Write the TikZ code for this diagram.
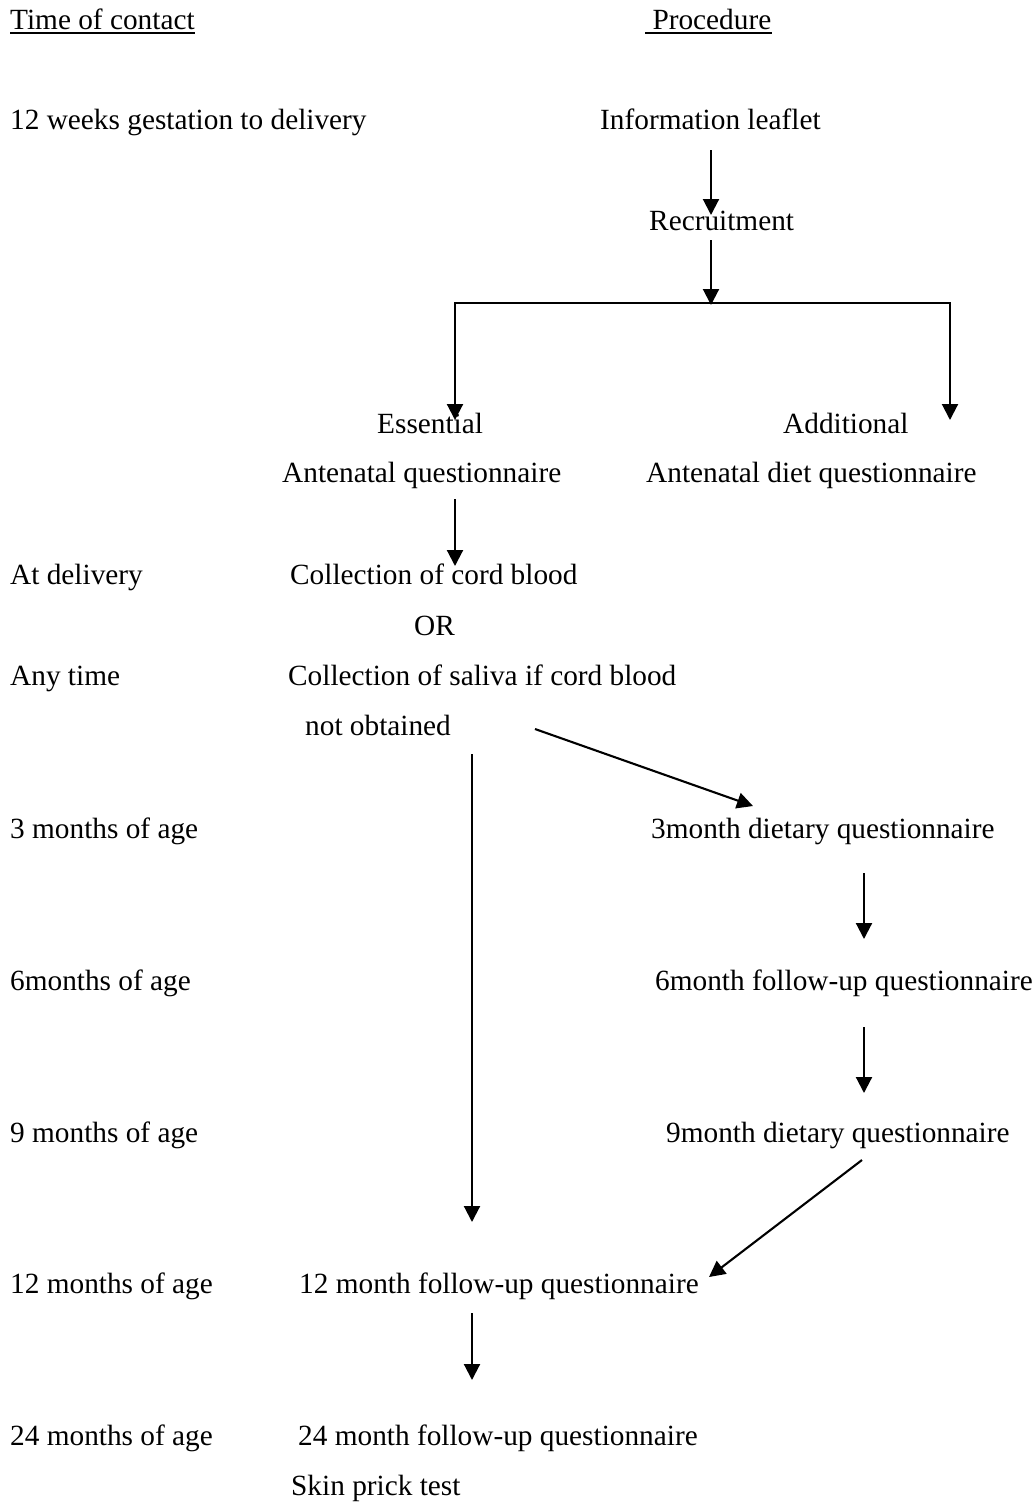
\documentclass[tikz,border=0pt]{standalone}
\usepackage{fontspec}
\setmainfont{Liberation Serif}
\usetikzlibrary{
  arrows.meta,
  positioning
}
\definecolor{linecolor}{RGB}{0, 0, 0}
\definecolor{labelcolor}{RGB}{0, 0, 0}
\tikzset{
plaintext/.style={
  font=\fontsize{29.3}{34}\selectfont,
  text=labelcolor,
  inner sep=0pt,
  anchor=base west
},
headtext/.style={
  plaintext
},
underline/.style={
  draw=linecolor,
  line width=1.8pt
},
link/.style={
  line width=2.1pt,
  draw=linecolor,
  line cap=rect
},
arrow/.style={
  -{Triangle[length=16pt,width=16pt]},
  line width=2.1pt,
  draw=linecolor
}
}
\begin{document}
\begin{tikzpicture}[x=1pt, y=-1pt]
      \useasboundingbox (0,0) rectangle (1036,1505);
      % Headings
      \node[headtext] (timehead) at (10,29) {Time of contact};
      \node[headtext] (prochead) at (645,29) {\ Procedure};
      \draw[underline] ([yshift=-4pt]timehead.base west) -- ([yshift=-4pt]timehead.base east);
      \draw[underline] ([yshift=-4pt]prochead.base west) -- ([yshift=-4pt]prochead.base east);
      % Time of contact column
      \node[plaintext] (tgest) at (10,129) {12 weeks gestation to delivery};
      \node[plaintext] (tdeliv) at (10,584) {At delivery};
      \node[plaintext] (tany) at (10,685) {Any time};
      \node[plaintext] (tthree) at (10,838) {3 months of age};
      \node[plaintext] (tsix) at (10,990) {6months of age};
      \node[plaintext] (tnine) at (10,1142) {9 months of age};
      \node[plaintext] (ttwelve) at (10,1293) {12 months of age};
      \node[plaintext] (ttwentyfour) at (10,1445) {24 months of age};
      % Procedure column
      \node[plaintext] (leaflet) at (600,129) {Information leaflet};
      \node[plaintext] (recruit) at (649,230) {Recruitment};
      \node[plaintext] (essential) at (377,433) {Essential};
      \node[plaintext] (additional) at (783,433) {Additional};
      \node[plaintext] (antequest) at (282,482) {Antenatal questionnaire};
      \node[plaintext] (dietquest) at (646,482) {Antenatal diet questionnaire};
      \node[plaintext] (cordblood) at (290,584) {Collection of cord blood};
      \node[plaintext] (ornode) at (414,635) {OR};
      \node[plaintext] (saliva) at (288,685) {Collection of saliva if cord blood};
      \node[plaintext] (notobt) at (305,735) {not obtained};
      \node[plaintext] (dietthree) at (651,838) {3month dietary questionnaire};
      \node[plaintext] (followsix) at (655,990) {6month follow-up questionnaire};
      \node[plaintext] (dietnine) at (666,1142) {9month dietary questionnaire};
      \node[plaintext] (followtwelve) at (299,1293) {12 month follow-up questionnaire};
      \node[plaintext] (followtwentyfour) at (298,1445) {24 month follow-up questionnaire};
      \node[plaintext] (skintest) at (291,1495) {Skin prick test};
      % Connector ends
      \coordinate (leafletout) at (711,150);
      \coordinate (recruitin) at (711,215);
      \coordinate (recruitout) at (711,240);
      \coordinate (splitmid) at (711,305);
      \coordinate (splitleft) at (455,303);
      \coordinate (splitright) at (950,303);
      \coordinate (essin) at (455,420);
      \coordinate (addin) at (950,420);
      \coordinate (antequestout) at (455,499);
      \coordinate (cordin) at (455,566);
      \coordinate (salivaout) at (535,729);
      \coordinate (dietthreein) at (753,806);
      \coordinate (salivadown) at (472,754);
      \coordinate (twelvein) at (472,1222);
      \coordinate (dietthreeout) at (864,873);
      \coordinate (sixin) at (864,939);
      \coordinate (sixout) at (864,1027);
      \coordinate (ninein) at (864,1093);
      \coordinate (nineout) at (862,1160);
      \coordinate (twelveside) at (709,1277);
      \coordinate (twelveout) at (472,1313);
      \coordinate (twentyfourin) at (472,1380);
      % Arrows
      \draw[arrow] (leafletout) -- (recruitin);
      \draw[arrow] (recruitout) -- (splitmid);
      \draw[link] (splitleft) -- (splitright);
      \draw[arrow] (splitleft) -- (essin);
      \draw[arrow] (splitright) -- (addin);
      \draw[arrow] (antequestout) -- (cordin);
      \draw[arrow] (salivaout) -- (dietthreein);
      \draw[arrow] (salivadown) -- (twelvein);
      \draw[arrow] (dietthreeout) -- (sixin);
      \draw[arrow] (sixout) -- (ninein);
      \draw[arrow] (nineout) -- (twelveside);
      \draw[arrow] (twelveout) -- (twentyfourin);
    \end{tikzpicture}
\end{document}
